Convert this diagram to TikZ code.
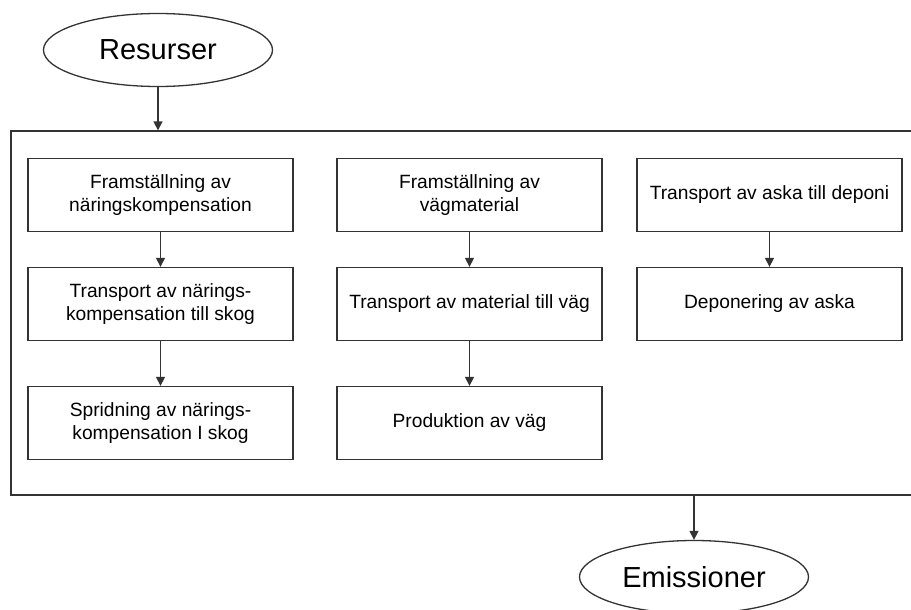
\documentclass[tikz,border=0pt]{standalone}
\usepackage{fontspec}
\setmainfont{Liberation Sans}
\usetikzlibrary{shapes.geometric,arrows.meta}
\tikzset{
  lin/.style={draw=black!80, line width=1.3pt},
  stepbox/.style={lin, rectangle, minimum width=265pt, minimum height=73pt, inner sep=0pt, align=center,
    font=\fontsize{19.2}{22.7}\selectfont},
  term/.style={lin, ellipse, minimum width=229pt, minimum height=73pt, inner sep=0pt,
    font=\fontsize{29}{31}\selectfont},
  flow/.style={lin, -{Triangle[length=9pt,width=9pt]}},
  frame/.style={lin, rectangle, inner sep=0pt}
}
\begin{document}
\begin{tikzpicture}[x=1pt,y=-1pt]
\useasboundingbox (0,0) rectangle (911,610);
\node[term] (res) at (158,50) {Resurser};
\node[frame, minimum width=919pt, minimum height=364pt] (fr) at (470.5,313) {};
\node[term] (emi) at (694,577) {Emissioner};

\node[stepbox] (a1) at (160.5,195) {Framställning av\\näringskompensation};
\node[stepbox] (a2) at (160.5,304) {Transport av närings-\\kompensation till skog};
\node[stepbox] (a3) at (160.5,423) {Spridning av närings-\\kompensation I skog};

\node[stepbox] (b1) at (469.5,195) {Framställning av\\vägmaterial};
\node[stepbox] (b2) at (469.5,304) {Transport av material till väg};
\node[stepbox] (b3) at (469.5,423) {Produktion av väg};

\node[stepbox] (c1) at (769.5,195) {Transport av aska till deponi};
\node[stepbox] (c2) at (769.5,304) {Deponering av aska};

\draw[flow] (res.south) -- (res.south |- fr.north);
\draw[flow] (fr.south -| emi.north) -- (emi.north);
\draw[flow] (a1) -- (a2);
\draw[flow] (a2) -- (a3);
\draw[flow] (b1) -- (b2);
\draw[flow] (b2) -- (b3);
\draw[flow] (c1) -- (c2);
\end{tikzpicture}
\end{document}
